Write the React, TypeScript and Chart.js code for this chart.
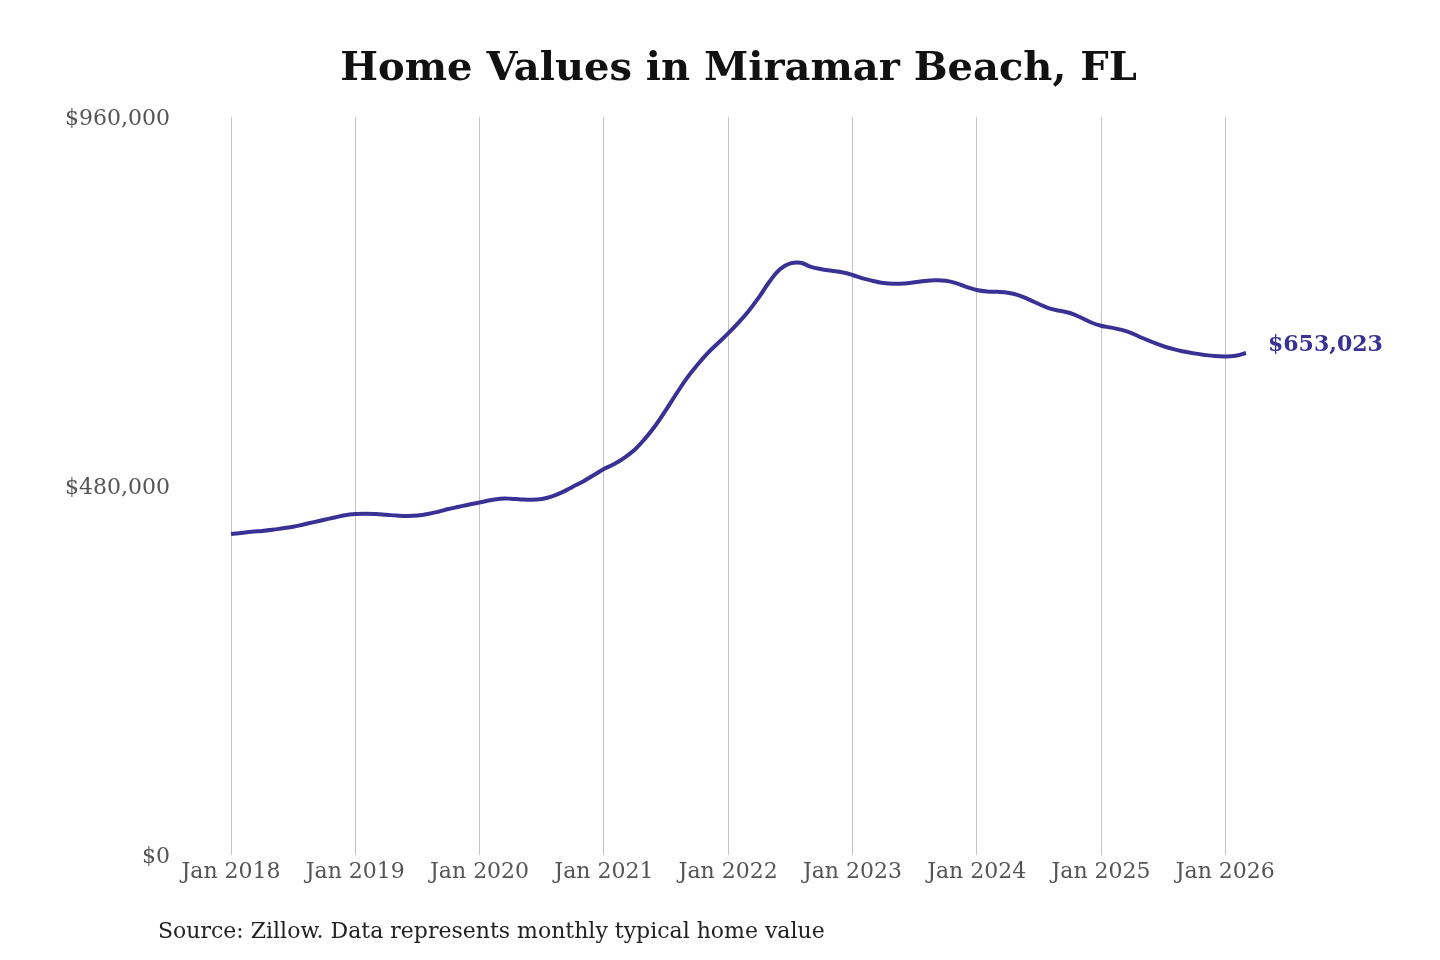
import { useEffect, useRef } from 'react';
import Chart from 'chart.js/auto';

const TITLE = 'Home Values in Miramar Beach, FL';
const SOURCE = 'Source: Zillow. Data represents monthly typical home value';
const LINE_COLOR = '#3a3194';
const FONT = '"DejaVu Serif", "Liberation Serif", serif';

const MONTHS = ['Jan', 'Feb', 'Mar', 'Apr', 'May', 'Jun', 'Jul', 'Aug', 'Sep', 'Oct', 'Nov', 'Dec'];
const YEARS = [2018, 2019, 2020, 2021, 2022, 2023, 2024, 2025, 2026];

// monthly typical home value, Jan 2018 - Mar 2026
const values2018 = [417500, 419000, 420500, 421500, 423000, 425000, 427000, 430000, 433000, 436000, 439000, 442000];
const values2019 = [443500, 444000, 443500, 442500, 441500, 441000, 441500, 443500, 446500, 450000, 453000, 456000];
const values2020 = [458500, 461500, 463500, 463500, 462500, 462000, 463000, 466500, 472000, 479000, 486000, 494000];
const values2021 = [502000, 508500, 517000, 527500, 542000, 559000, 579000, 600000, 620000, 637000, 652500, 665500];
const values2022 = [678500, 692500, 708000, 726000, 746000, 762000, 769500, 770500, 765000, 762000, 760000, 758000];
const values2023 = [754500, 750000, 746700, 744000, 743000, 743500, 745000, 746700, 747500, 747000, 744000, 739000];
const values2024 = [735000, 733000, 732600, 731500, 728400, 722800, 716700, 711000, 708000, 705000, 699500, 693000];
const values2025 = [688500, 686000, 683000, 678500, 672500, 667000, 662000, 658000, 655000, 652500, 650500, 649000];
const values2026 = [648500, 649500, 653023];

const homeValues = [
  ...values2018, ...values2019, ...values2020, ...values2021, ...values2022,
  ...values2023, ...values2024, ...values2025, ...values2026,
];

const labels = homeValues.map((_, i) => `${MONTHS[i % 12]} ${YEARS[Math.floor(i / 12)]}`);

const yTicks = [0, 480000, 960000];

const fmt = (v: number) => '$' + v.toLocaleString('en-US');

const decorPlugin = {
  id: 'decor',
  afterDraw(chart: any) {
    const { ctx, chartArea } = chart;
    ctx.save();
    // title centred over the plot
    ctx.fillStyle = '#111';
    ctx.font = `bold 40px ${FONT}`;
    ctx.textAlign = 'center';
    ctx.textBaseline = 'middle';
    ctx.fillText(TITLE, (chartArea.left + chartArea.right) / 2, 70);

    // source note
    ctx.fillStyle = '#222';
    ctx.font = `22px ${FONT}`;
    ctx.textAlign = 'left';
    ctx.fillText(SOURCE, 158, 932);

    // end value label
    const meta = chart.getDatasetMeta(0);
    const last = meta.data[meta.data.length - 1];
    if (last) {
      ctx.fillStyle = LINE_COLOR;
      ctx.font = `bold 22px ${FONT}`;
      ctx.textAlign = 'left';
      ctx.fillText(fmt(homeValues[homeValues.length - 1]), last.x + 22, last.y - 8);
    }
    ctx.restore();
  },
};

export default function App() {
  const canvasRef = useRef<HTMLCanvasElement>(null);

  useEffect(() => {
    if (!canvasRef.current) return;

    const chart = new Chart(canvasRef.current, {
      type: 'line',
      data: {
        labels,
        datasets: [
          {
            data: homeValues,
            borderColor: LINE_COLOR,
            borderWidth: 4,
            pointRadius: 0,
            tension: 0.4,
            fill: false,
          },
        ],
      },
      options: {
        responsive: true,
        maintainAspectRatio: false,
        animation: false,
        layout: {
          padding: { left: 0, right: 194, top: 117, bottom: 65 },
        },
        plugins: {
          legend: { display: false },
          tooltip: { enabled: false },
        },
        scales: {
          x: {
            type: 'category',
            offset: false,
            afterBuildTicks: (scale: any) => {
              scale.ticks = scale.ticks.filter((t: any) => t.value % 12 === 0);
            },
            afterFit: (scale: any) => {
              scale.height = 40;
            },
            grid: {
              display: true,
              drawTicks: false,
              color: '#c4c4c4',
              lineWidth: 1,
            },
            border: { display: false },
            ticks: {
              autoSkip: false,
              maxRotation: 0,
              padding: 4,
              color: '#555',
              font: { family: FONT, size: 22 },
              callback: (_v: any, i: number, ticks: any[]) => labels[ticks[i].value],
            },
          },
          y: {
            min: 0,
            max: 960000,
            afterBuildTicks: (scale: any) => {
              scale.ticks = yTicks.map((v) => ({ value: v }));
            },
            afterFit: (scale: any) => {
              scale.width = 231;
            },
            grid: { display: false, drawTicks: false },
            border: { display: false },
            ticks: {
              padding: 61,
              labelOffset: 2,
              color: '#555',
              font: { family: FONT, size: 22 },
              callback: (v: any) => fmt(Number(v)),
            },
          },
        },
      },
      plugins: [decorPlugin],
    });

    return () => {
      chart.destroy();
    };
  }, []);

  return (
    <div style={{ position: 'fixed', left: 0, top: 0, width: 1440, height: 960, background: '#fff' }}>
      <canvas ref={canvasRef} />
    </div>
  );
}
